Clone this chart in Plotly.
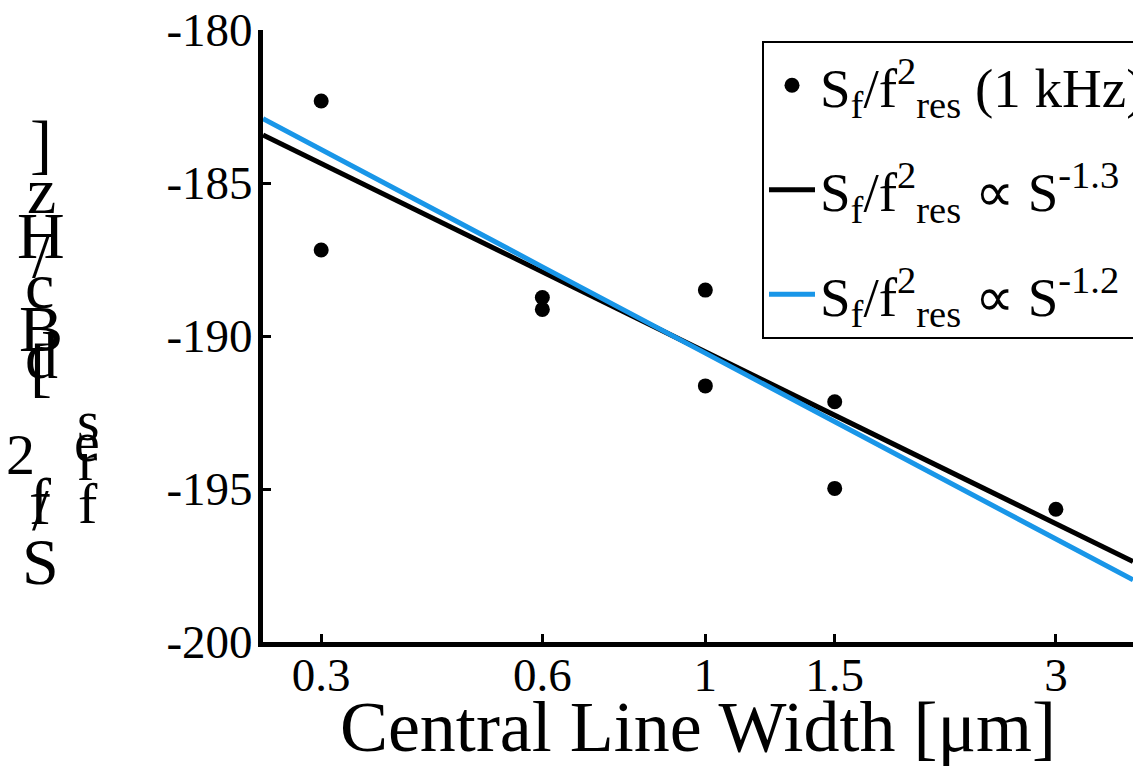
import numpy as np
import plotly.graph_objects as go

# ---- data ----
width_um = [0.3, 0.3, 0.6, 0.6, 1.0, 1.0, 1.5, 1.5, 3.0]
noise_db = [-182.32, -187.19, -188.74, -189.13, -188.50, -191.63, -192.15, -194.98, -195.66]

fit_x = [0.25, 0.3, 0.6, 1.0, 1.5, 3.0, 3.82]
fit13_y = [-183.43, -184.36, -187.90, -190.52, -192.59, -196.13, -197.37]
fit12_y = [-182.90, -183.90, -187.74, -190.56, -192.80, -196.64, -197.97]

xtick_vals = [0.3, 0.6, 1, 1.5, 3]
xtick_text = ["0.3", "0.6", "1", "1.5", "3"]
ytick_vals = [-200, -195, -190, -185, -180]
ytick_text = ["-200", "-195", "-190", "-185", "-180"]

FONT = "Liberation Serif"
BLUE = "#1996e8"

lab = "S<sub>f</sub>/f<sup>2</sup><sub>res</sub>"

fig = go.Figure()
fig.add_trace(go.Scatter(
    x=fit_x, y=fit13_y, mode="lines", name=lab + " \u221d S<sup>-1.3</sup>",
    line=dict(color="black", width=5), legendgroup="b", legendrank=2))
fig.add_trace(go.Scatter(
    x=fit_x, y=fit12_y, mode="lines", name=lab + " \u221d S<sup>-1.2</sup>",
    line=dict(color=BLUE, width=5), legendgroup="c", legendrank=3))
fig.add_trace(go.Scatter(
    x=width_um, y=noise_db, mode="markers", name=lab + " (1 kHz)",
    marker=dict(color="black", size=15), legendgroup="a", legendrank=1))

# plot-area geometry (pixels) used to place the stacked y-label glyphs
L, R, T, B = 263, 1133, 30, 642
def px(xp):
    return (xp - L) / (R - L)
def py(yp):
    return (B - yp) / (B - T)

glyphs = [
    ("]", 41, 143, 66), ("z", 41, 191, 66), ("H", 41, 235, 66), ("/", 41, 254, 66),
    ("c", 39, 285, 66), ("B", 41, 328, 66), ("d", 41, 355, 66), ("[", 41, 366, 66),
    ("s", 88, 421, 58), ("e", 87, 441, 58), ("r", 87, 461, 58), ("f", 88, 503, 58),
    ("2", 20, 454, 58), ("f", 40, 501, 66), ("/", 40, 510, 60), ("S", 40, 561, 66),
]
annots = []
for ch, gx, gy, fs in glyphs:
    annots.append(dict(text=ch, x=px(gx), y=py(gy), xref="paper", yref="paper",
                       xanchor="center", yanchor="middle", showarrow=False,
                       font=dict(family=FONT, size=fs, color="black")))

fig.update_layout(
    width=1133, height=767,
    margin=dict(l=L, r=1133 - R, t=T, b=767 - B, autoexpand=False),
    paper_bgcolor="white", plot_bgcolor="white",
    font=dict(family=FONT, color="black"),
    showlegend=True,
    legend=dict(x=px(762), y=py(41), xanchor="left", yanchor="top",
                bordercolor="black", borderwidth=2, bgcolor="white",
                font=dict(family=FONT, size=55, color="black"),
                tracegroupgap=30, itemwidth=46),
    annotations=annots,
    xaxis=dict(type="log", range=[np.log10(0.25), np.log10(3.82)],
               tickvals=xtick_vals, ticktext=xtick_text,
               ticks="inside", ticklen=8, tickwidth=3, tickcolor="black",
               showline=True, linewidth=5, linecolor="black",
               showgrid=False, zeroline=False, ticklabelstandoff=-12,
               tickfont=dict(family=FONT, size=47),
               title=dict(text="Central Line Width [\u03bcm]",
                          font=dict(family=FONT, size=72), standoff=12)),
    yaxis=dict(range=[-200, -180], tickvals=ytick_vals, ticktext=ytick_text,
               ticks="inside", ticklen=8, tickwidth=3, tickcolor="black",
               showline=True, linewidth=5, linecolor="black",
               showgrid=False, zeroline=False, ticklabelstandoff=-4,
               tickfont=dict(family=FONT, size=47)),
)

fig.write_html("out.html")
